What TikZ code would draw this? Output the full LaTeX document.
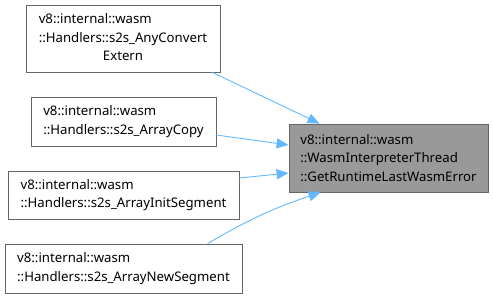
\documentclass[tikz,border=0pt]{standalone}
\usepackage{fontspec}
\setmainfont{Noto Sans}
\usetikzlibrary{arrows.meta}

\definecolor{edgeblue}{RGB}{99,184,255}
\definecolor{boxline}{RGB}{102,102,102}
\definecolor{curfill}{RGB}{153,153,153}

\tikzset{
  fnbox/.style={draw=boxline,fill=white,line width=0.8pt,inner sep=0pt,
    font=\fontsize{13.2}{18.7}\selectfont,align=left},
  fncur/.style={fnbox,fill=curfill},
  callarrow/.style={draw=edgeblue,line width=0.9pt,
    -{Triangle[length=12pt,width=10pt]}}
}

\begin{document}
\begin{tikzpicture}[x=1pt,y=-1pt]
\useasboundingbox (0,0) rectangle (493,298);

% callers on the left
\node[fnbox,minimum width=194pt,minimum height=67pt] (anyconv) at (123,38.5)
  {\begin{tabular}{@{}l@{}}v8::internal::wasm\\::Handlers::s2s\_AnyConvert\\
   \multicolumn{1}{@{}c@{}}{Extern}\end{tabular}};
\node[fnbox,minimum width=185pt,minimum height=49pt] (arrcopy) at (123.5,121.5)
  {v8::internal::wasm\\::Handlers::s2s\_ArrayCopy};
\node[fnbox,minimum width=231pt,minimum height=48pt] (arrinit) at (123.5,195)
  {v8::internal::wasm\\::Handlers::s2s\_ArrayInitSegment};
\node[fnbox,minimum width=237pt,minimum height=49pt] (arrnew) at (123.5,268.5)
  {v8::internal::wasm\\::Handlers::s2s\_ArrayNewSegment};

% the called function
\node[fncur,minimum width=199pt,minimum height=68pt] (lasterr) at (388.5,158)
  {v8::internal::wasm\\::WasmInterpreterThread\\::GetRuntimeLastWasmError};

% call edges
\draw[callarrow] ([xshift=-8pt]anyconv.south east) -- ([xshift=31pt]lasterr.north west);
\draw[callarrow] ([yshift=-13.5pt]arrcopy.east) -- ([yshift=13pt]lasterr.west);
\draw[callarrow] ([yshift=17pt]arrinit.east) -- ([yshift=-15pt]lasterr.west);
\draw[callarrow] ([xshift=203pt]arrnew.north west) to[bend left=6] ([xshift=32pt]lasterr.south west);
\end{tikzpicture}
\end{document}
